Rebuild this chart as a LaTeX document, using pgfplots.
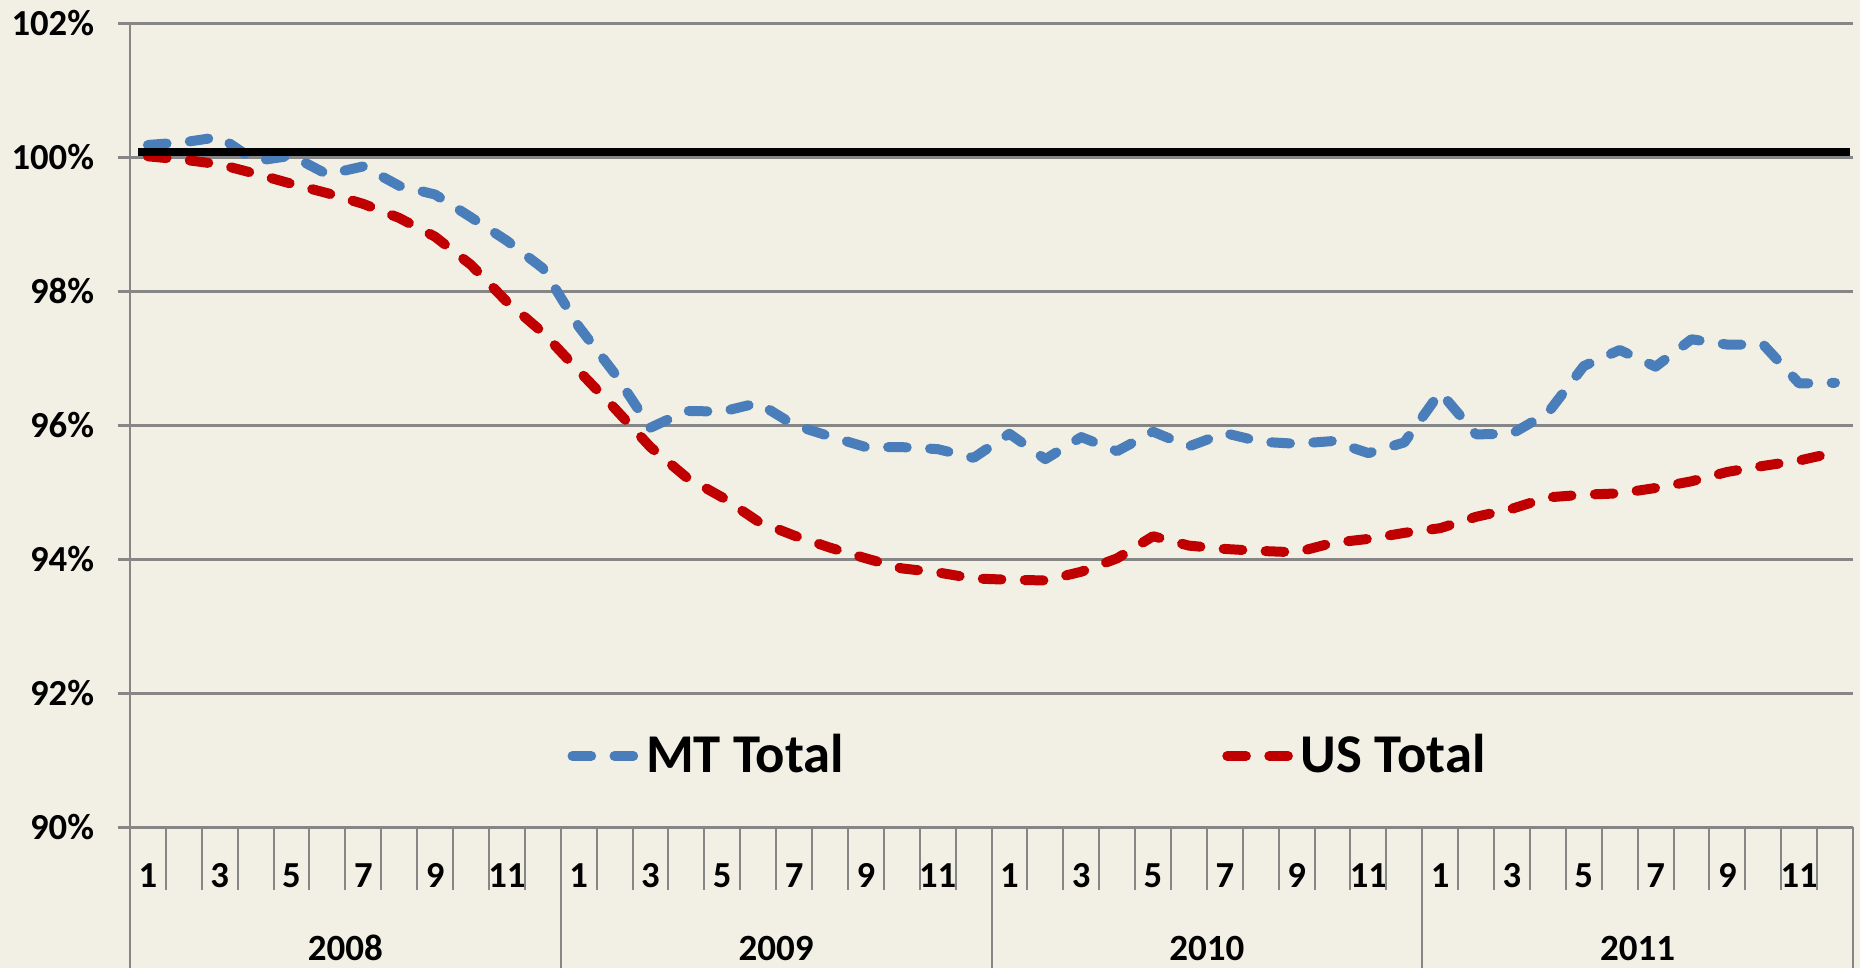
\documentclass[border=0pt]{standalone}
\usepackage{fontspec}
\setmainfont{Carlito}
\usepackage{pgfplots}
\pgfplotsset{compat=1.18}
\definecolor{bgc}{RGB}{242,240,229}
\definecolor{gridc}{RGB}{134,134,134}
\definecolor{mtblue}{RGB}{74,126,187}
\definecolor{usred}{RGB}{192,0,0}
\begin{document}
\begin{tikzpicture}[x=1pt,y=1pt]
\fill[bgc] (0,0) rectangle (558,290.4);
\begin{axis}[
  at={(39pt,42.3pt)}, anchor=south west,
  scale only axis, width=516.9pt, height=241.2pt,
  xmin=0.5, xmax=48.5, ymin=90, ymax=102,
  clip=false,
  axis x line*=bottom, axis y line*=left,
  axis line style={-, gridc, line width=0.6pt},
  ytick={90,92,...,102},
  yticklabels={90\%,92\%,94\%,96\%,98\%,100\%,102\%},
  ymajorgrids, grid style={gridc, line width=0.9pt},
  xtick={1,3,...,47},
  xticklabels={1,3,5,7,9,11,1,3,5,7,9,11,1,3,5,7,9,11,1,3,5,7,9,11},
  xtick style={draw=none},
  ytick style={gridc, line width=0.9pt},
  tick align=outside, major tick length=3.6pt,
  /pgf/number format/assume math mode=true,
  yticklabel style={font=\fontsize{11}{12}\selectfont\bfseries, anchor=east, inner sep=0pt, xshift=-7pt},
  xticklabel style={font=\fontsize{11}{12}\selectfont\bfseries, anchor=base, inner sep=0pt, yshift=-14.6pt},
  legend columns=2,
  legend style={draw=none, fill=none, at={(axis cs:12.67,91.06)}, anchor=west, inner sep=0pt,
    font=\fontsize{16.4}{19}\selectfont\bfseries, legend cell align=left,
    /tikz/every even column/.append style={column sep=111.5pt}},
  legend image code/.code={\draw[#1] (0pt,0pt) -- (18.6pt,0pt);},
]
\addplot[mtblue, line width=3pt, dash pattern=on 5.6pt off 7pt, line cap=round, line join=round] coordinates {
(1,100.18) (2,100.22) (3,100.30) (4,99.94) (5,100.02) (6,99.74) (7,99.86) (8,99.57) (9,99.44) (10,99.10) (11,98.75) (12,98.34)
(13,97.47) (14,96.77) (15,95.96) (16,96.21) (17,96.20) (18,96.33) (19,96.00) (20,95.83) (21,95.67) (22,95.67) (23,95.64) (24,95.51)
(25,95.87) (26,95.49) (27,95.82) (28,95.61) (29,95.90) (30,95.68) (31,95.88) (32,95.75) (33,95.72) (34,95.76) (35,95.58) (36,95.74)
(37,96.49) (38,95.86) (39,95.87) (40,96.18) (41,96.88) (42,97.12) (43,96.87) (44,97.28) (45,97.20) (46,97.20) (47,96.62) (48,96.63)
};
\addlegendentry{MT Total}
\addplot[usred, line width=3pt, dash pattern=on 5.6pt off 7pt, line cap=round, line join=round] coordinates {
(1,100.01) (2,99.96) (3,99.89) (4,99.75) (5,99.60) (6,99.46) (7,99.30) (8,99.09) (9,98.81) (10,98.39) (11,97.84) (12,97.38)
(13,96.81) (14,96.25) (15,95.67) (16,95.22) (17,94.92) (18,94.56) (19,94.35) (20,94.17) (21,94.01) (22,93.86) (23,93.80) (24,93.71)
(25,93.69) (26,93.68) (27,93.81) (28,94.01) (29,94.34) (30,94.20) (31,94.15) (32,94.12) (33,94.10) (34,94.24) (35,94.30) (36,94.39)
(37,94.46) (38,94.63) (39,94.75) (40,94.92) (41,94.96) (42,94.98) (43,95.06) (44,95.16) (45,95.30) (46,95.39) (47,95.47) (48,95.59)
};
\addlegendentry{US Total}
\addplot[black, line width=2.4pt, forget plot] coordinates {(0.72,100.08) (48.41,100.08)};
\pgfplotsinvokeforeach{0.5,1.5,...,48.5}{\draw[gridc, line width=0.6pt] (axis cs:#1,90) -- ++(0pt,-18.9pt);}
\pgfplotsinvokeforeach{0.5,12.5,24.5,36.5,48.5}{\draw[gridc, line width=0.6pt] (axis cs:#1,90) -- ++(0pt,-42.3pt);}
\node[font=\fontsize{11.1}{13}\selectfont\bfseries, anchor=base, inner sep=0pt] at ([yshift=-39.9pt]axis cs:6.5,90) {2008};
\node[font=\fontsize{11.1}{13}\selectfont\bfseries, anchor=base, inner sep=0pt] at ([yshift=-39.9pt]axis cs:18.5,90) {2009};
\node[font=\fontsize{11.1}{13}\selectfont\bfseries, anchor=base, inner sep=0pt] at ([yshift=-39.9pt]axis cs:30.5,90) {2010};
\node[font=\fontsize{11.1}{13}\selectfont\bfseries, anchor=base, inner sep=0pt] at ([yshift=-39.9pt]axis cs:42.5,90) {2011};
\end{axis}
\pgfresetboundingbox
\useasboundingbox (0,0) rectangle (558,290.4);
\end{tikzpicture}
\end{document}
